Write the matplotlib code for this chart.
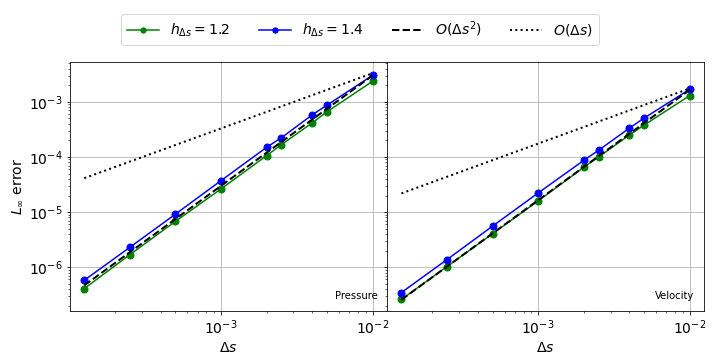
import numpy as np
import matplotlib.pyplot as plt

ds = [1.25e-4, 2.5e-4, 5e-4, 1e-3, 2e-3, 2.5e-3, 4e-3, 5e-3, 1e-2]

# pressure errors
p_h12 = [4.1e-7, 1.69e-6, 6.8e-6, 2.64e-5, 1.06e-4, 1.67e-4, 4.17e-4, 6.6e-4, 2.36e-3]
p_h14 = [5.8e-7, 2.3e-6, 9.2e-6, 3.73e-5, 1.5e-4, 2.23e-4, 5.82e-4, 8.7e-4, 3.03e-3]

# velocity errors
v_h12 = [2.61e-7, 1.03e-6, 4.06e-6, 1.6e-5, 6.5e-5, 1.0e-4, 2.5e-4, 3.79e-4, 1.3e-3]
v_h14 = [3.48e-7, 1.38e-6, 5.58e-6, 2.23e-5, 8.7e-5, 1.32e-4, 3.34e-4, 5.07e-4, 1.69e-3]

# reference slope constants
p_c2, p_c1 = 30.0, 0.33
v_c2, v_c1 = 16.5, 0.175

panels = [("Pressure", p_h12, p_h14, p_c2, p_c1),
          ("Velocity", v_h12, v_h14, v_c2, v_c1)]

fs = 14
fig, axes = plt.subplots(1, 2, figsize=(10, 5), dpi=72, sharey=True)
fig.subplots_adjust(left=0.097, right=0.978, bottom=0.136, top=0.828, wspace=0)

x = np.array(ds)
for ax, (name, e12, e14, c2, c1) in zip(axes, panels):
    ax.loglog(x, e12, 'o-', color='green', markersize=7, label=r'$h_{\Delta s}=1.2$')
    ax.loglog(x, e14, 'o-', color='blue', markersize=7, label=r'$h_{\Delta s}=1.4$')
    ax.loglog(x, c2 * x**2, '--', color='black', linewidth=2, label=r'$O(\Delta s^2)$')
    ax.loglog(x, c1 * x, ':', color='black', linewidth=2, label=r'$O(\Delta s)$')
    ax.grid(True)
    ax.set_xlabel(r'$\Delta s$', fontsize=fs)
    ax.tick_params(labelsize=fs)
    ax.text(0.97, 0.04, name, transform=ax.transAxes, ha='right', va='bottom', fontsize=10)

axes[0].set_ylabel(r'$L_\infty$ error', fontsize=fs)

handles, labels = axes[0].get_legend_handles_labels()
fig.legend(handles, labels, loc='upper center', bbox_to_anchor=(0.5, 0.98),
           ncol=4, fontsize=fs, markerscale=0.75, handlelength=2.3)

plt.savefig("out.png", dpi=72)
